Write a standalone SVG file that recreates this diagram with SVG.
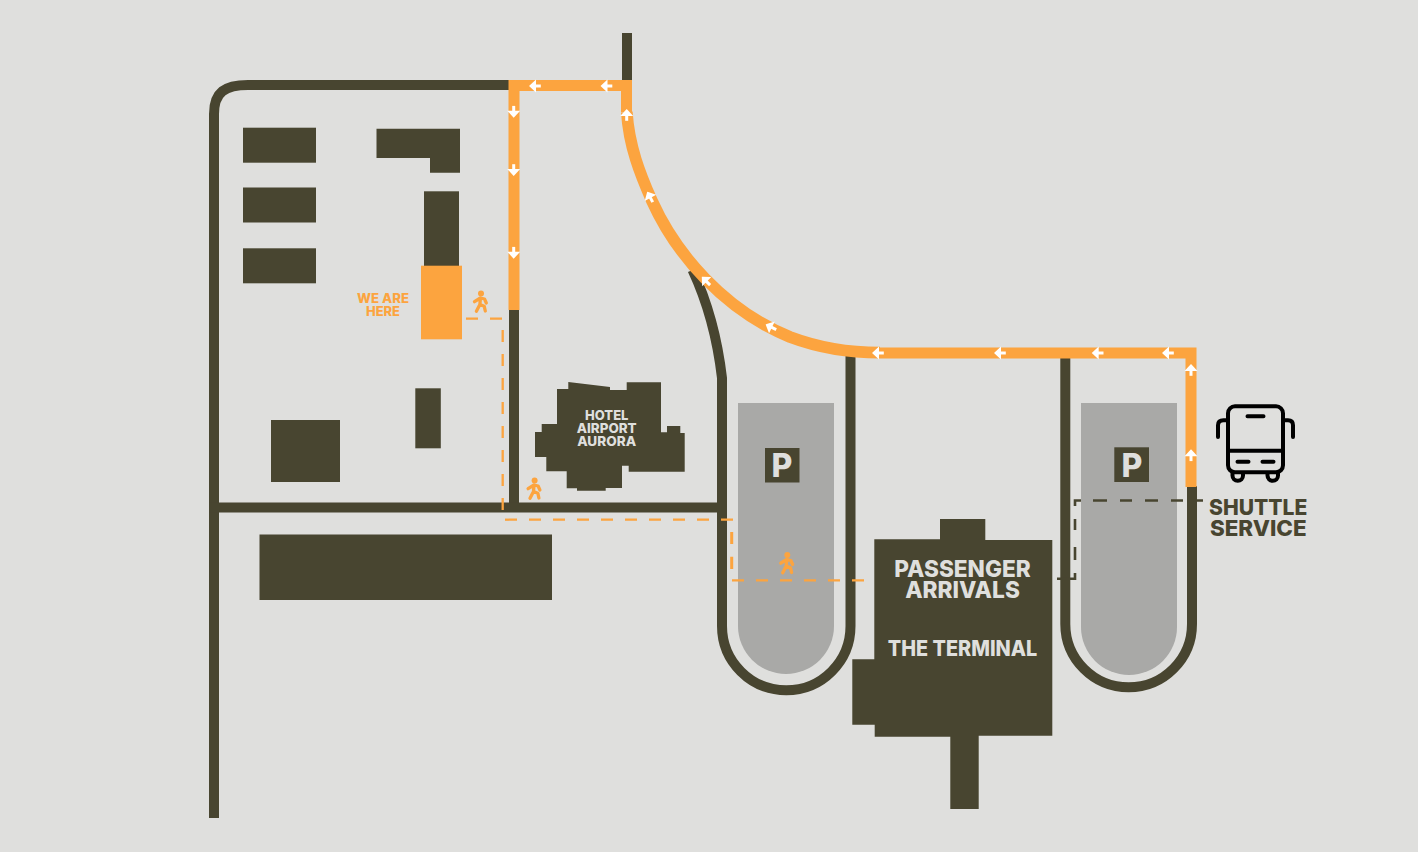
<svg xmlns="http://www.w3.org/2000/svg" xmlns:xlink="http://www.w3.org/1999/xlink" width="1418" height="852" viewBox="0 0 1418 852">
<style>
.b{fill:#484530}
.o{fill:#fca43f}
.g{fill:#a9a9a7}
.rd{fill:none;stroke:#484530;stroke-width:10}
.rt{fill:none;stroke:#fca43f;stroke-width:11}
.do{fill:none;stroke:#fca43f;stroke-width:2.300}
.dd{fill:none;stroke:#484530;stroke-width:2.600}
.t{font-family:Inter,"Liberation Sans",sans-serif;font-weight:800;text-anchor:middle}
.lt{fill:#dfdfdd}
.ic{fill:none;stroke:#000;stroke-width:4;stroke-linecap:round;stroke-linejoin:round}
</style>
<defs>
<g id="arr"><path d="M-4.500 0L0 -4.200V4.200Z" fill="#fff" stroke="#fff" stroke-width="2"/><path d="M-3 0H5.800" fill="none" stroke="#fff" stroke-width="3"/></g>
<g id="walk"><circle cx="0.300" cy="-8.500" r="3" fill="#fca43f"/><path d="M-0.300 -4L-0.800 2.500L-4.300 9.300M-0.800 2.500L3.500 4.200L4.600 9M-6.200 -0.300L-0.300 -4L3.800 -3L5.600 1" fill="none" stroke="#fca43f" stroke-width="3.300" stroke-linecap="round" stroke-linejoin="round"/></g>
</defs>
<rect width="1418" height="852" fill="#dfdfdd"/>

<g id="connectors">
<path class="rd" d="M214 818V114C214 92 225 85 248 85H510"/>
<path class="rd" d="M627 33V82"/>
<path class="rd" d="M514 308V505"/>
<path class="rd" d="M209 507.500H722"/>
<path class="rd" d="M692.500 270Q715 318 722 378V626A64.200 64.200 0 0 0 850.500 626V352"/>
<path class="rd" d="M1065.300 352V624A63.350 63.350 0 0 0 1192 624V486"/>
<path class="rt" d="M514 310V85.500H626.500V112M880 353H1191V487"/>
<path class="rt" style="stroke-width:11.700" d="M626.800 112C629 146 640 174 652 201C676 254 724 310 790 337C822 349 850 352.700 880 352.700"/>
<g id="route-arrows">
<use xlink:href="#arr" href="#arr" transform="translate(535 86)"/>
<use xlink:href="#arr" href="#arr" transform="translate(606.500 86)"/>
<use xlink:href="#arr" href="#arr" transform="translate(513.700 111.700) rotate(-90)"/>
<use xlink:href="#arr" href="#arr" transform="translate(513.700 170) rotate(-90)"/>
<use xlink:href="#arr" href="#arr" transform="translate(513.700 252.700) rotate(-90)"/>
<use xlink:href="#arr" href="#arr" transform="translate(626.700 115) rotate(90)"/>
<use xlink:href="#arr" href="#arr" transform="translate(650 197) rotate(62)"/>
<use xlink:href="#arr" href="#arr" transform="translate(706 281) rotate(45)"/>
<use xlink:href="#arr" href="#arr" transform="translate(771 327) rotate(26)"/>
<use xlink:href="#arr" href="#arr" transform="translate(878 353)"/>
<use xlink:href="#arr" href="#arr" transform="translate(1000 353)"/>
<use xlink:href="#arr" href="#arr" transform="translate(1097.700 353)"/>
<use xlink:href="#arr" href="#arr" transform="translate(1168 353)"/>
<use xlink:href="#arr" href="#arr" transform="translate(1191 370) rotate(90)"/>
<use xlink:href="#arr" href="#arr" transform="translate(1191 455.300) rotate(90)"/>
</g>
</g>

<g id="buildings">
<rect class="b" x="243" y="127.700" width="73" height="35"/>
<rect class="b" x="243" y="187.500" width="73" height="35"/>
<rect class="b" x="243" y="248.300" width="73" height="35"/>
<polygon class="b" points="376.500,128.700 460,128.700 460,172.700 430,172.700 430,158 376.500,158"/>
<rect class="b" x="424" y="191.300" width="35" height="75"/>
<rect class="b" x="415.300" y="388.300" width="25.500" height="60"/>
<rect class="b" x="271" y="420" width="69" height="62"/>
<rect class="b" x="259.500" y="534.500" width="292.500" height="65.500"/>
</g>

<g id="here">
<rect class="o" x="421" y="265.700" width="41" height="73.600"/>
<text class="t" fill="#fca43f" font-size="13" x="383" y="302.700" textLength="52" lengthAdjust="spacingAndGlyphs">WE ARE</text>
<text class="t" fill="#fca43f" font-size="13" x="383" y="315.700" textLength="34" lengthAdjust="spacingAndGlyphs">HERE</text>
</g>

<g id="hotel">
<polygon class="b" points="568.300,382 610,387 610,390 626.700,390 626.700,382.300 661,382.300 661,432.300 667,432.300 667,426 680.300,426 680.300,433 684.700,433 684.700,471.700 628.700,471.700 628.700,465.700 622,465.700 622,488 605.700,488 605.700,490.700 577,490.700 577,488.300 566.700,488.300 566.700,471.300 546.300,471.300 546.300,457 535,457 535,432 541.700,432 541.700,424 557,424 557,389 568.300,389"/>
<text class="t lt" font-size="13.500" x="606.700" y="420" textLength="43.500" lengthAdjust="spacingAndGlyphs">HOTEL</text>
<text class="t lt" font-size="13.500" x="606.700" y="433" textLength="60" lengthAdjust="spacingAndGlyphs">AIRPORT</text>
<text class="t lt" font-size="13.500" x="606.700" y="445.700" textLength="59" lengthAdjust="spacingAndGlyphs">AURORA</text>
</g>

<g id="parking-1">
<path class="g" d="M738 403H834V626A48 48 0 0 1 738 626Z"/>
<rect class="b" x="765" y="448" width="34.500" height="34.500"/>
<text class="t lt" font-size="32" x="782" y="476.700">P</text>
</g>
<g id="parking-2">
<path class="g" d="M1081 403H1177V627A48 48 0 0 1 1081 627Z"/>
<rect class="b" x="1114.300" y="447.300" width="34.700" height="34.700"/>
<text class="t lt" font-size="32" x="1132" y="476.700">P</text>
</g>

<g id="terminal">
<polygon class="b" points="940,519 985.300,519 985.300,540 1052.300,540 1052.300,735.700 978.700,735.700 978.700,809 950.300,809 950.300,736.700 874.700,736.700 874.700,724.700 852.300,724.700 852.300,659.300 874.300,659.300 874.300,539.300 940,539.300"/>
<text class="t lt" font-size="23" x="962.500" y="577.300" textLength="136.400" lengthAdjust="spacingAndGlyphs">PASSENGER</text>
<text class="t lt" font-size="23" x="962.500" y="597.700" textLength="114.700" lengthAdjust="spacingAndGlyphs">ARRIVALS</text>
<text class="t lt" font-size="21.500" x="962.500" y="656" textLength="149.600" lengthAdjust="spacingAndGlyphs">THE TERMINAL</text>
</g>

<g id="shuttle">
<rect class="ic" x="1228" y="406.300" width="55" height="66" rx="7"/>
<path class="ic" d="M1228 450.700H1283M1247.500 416.300H1263.500M1237.500 461.700H1248.500M1262.500 461.700H1273.500"/>
<path class="ic" d="M1226 420.300H1223.500Q1218 420.300 1218 425.300V437M1285 420.300H1288Q1293 420.300 1293 425.300V437"/>
<path class="ic" d="M1232.500 473V475.500A5.200 5.200 0 0 0 1243 475.500V473M1267.500 473V475.500A5.200 5.200 0 0 0 1278 475.500V473"/>
<text class="t" fill="#484530" font-size="22" x="1258.200" y="514.700" textLength="98.300" lengthAdjust="spacingAndGlyphs">SHUTTLE</text>
<text class="t" fill="#484530" font-size="22" x="1258.300" y="535.700" textLength="96.700" lengthAdjust="spacingAndGlyphs">SERVICE</text>
</g>

<g id="walkways">
<path class="do" d="M466 318.700H478M490 318.700H502M502.700 330V342M502.700 354V366M502.700 378V390M502.700 402V414M502.700 426V438M502.700 450V462M502.700 474V486M502.700 498V510"/>
<path class="do" d="M505 519.700H733" stroke-dasharray="12 12"/>
<path class="do" style="stroke-width:3" d="M731.700 532V544M731.700 556.700V569"/>
<path class="do" d="M732 580.300H864" stroke-dasharray="12 12"/>
<path class="dd" d="M1203 500.500H1197M1183 500.500H1171M1158 500.500H1145M1132 500.500H1120M1107 500.500H1093M1081 500.500H1075V506M1075 519V530M1075 547V560M1075 573V578.700H1057"/>
<use xlink:href="#walk" href="#walk" transform="translate(480.700 302)"/>
<use xlink:href="#walk" href="#walk" transform="translate(534.300 489)"/>
<use xlink:href="#walk" href="#walk" transform="translate(787 563.500)"/>
</g>
</svg>
